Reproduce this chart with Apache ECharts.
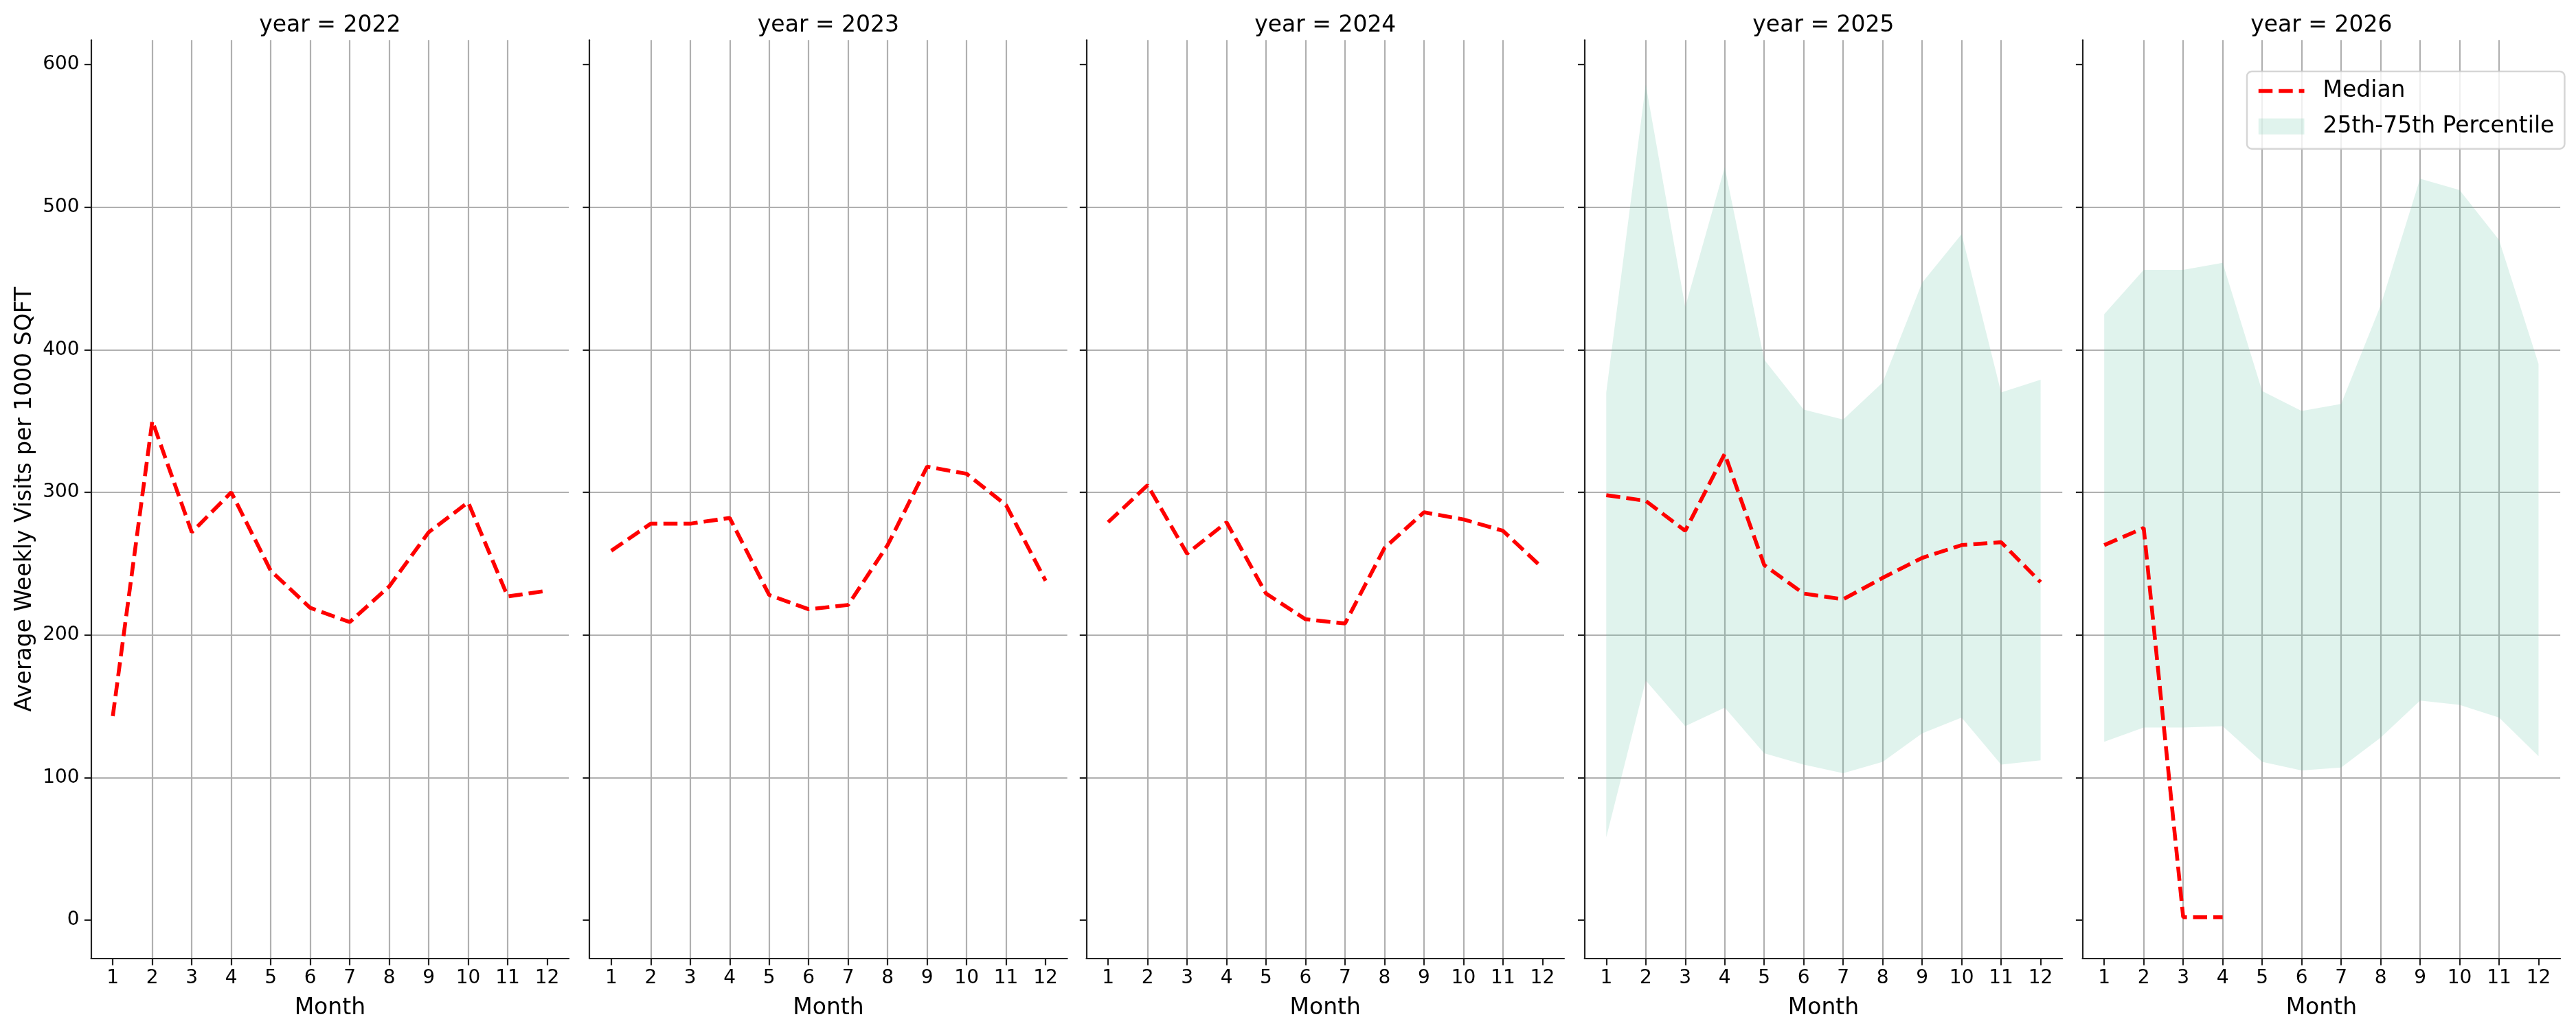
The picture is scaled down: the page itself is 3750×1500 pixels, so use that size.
<!DOCTYPE html>
<html>
<head>
<meta charset="utf-8">
<script src="https://cdn.jsdelivr.net/npm/echarts@6/dist/echarts.min.js"></script>
<style>
html, body { margin: 0; padding: 0; background: #fff; }
#main { width: 3750px; height: 1500px; }
</style>
</head>
<body>
<div id="main"></div>
<script>
var years = [2022, 2023, 2024, 2025, 2026];
var months = [1, 2, 3, 4, 5, 6, 7, 8, 9, 10, 11, 12];
var yTicks = [0, 100, 200, 300, 400, 500, 600];

var median2022 = [143, 350, 272, 300, 245, 219, 209, 234, 272, 293, 227, 231];
var median2023 = [259, 278, 278, 282, 228, 218, 221, 263, 318, 313, 291, 238];
var median2024 = [279, 305, 257, 279, 229, 211, 208, 261, 286, 281, 273, 247];
var median2025 = [298, 294, 273, 327, 249, 229, 225, 240, 254, 263, 265, 237];
var median2026 = [263, 275, 2, 2];

var lower2025 = [58, 168, 136, 149, 117, 109, 103, 111, 131, 142, 109, 112];
var upper2025 = [370, 586, 430, 528, 393, 358, 351, 377, 447, 481, 370, 379];
var lower2026 = [125, 135, 135, 136, 111, 105, 107, 128, 154, 151, 142, 115];
var upper2026 = [425, 456, 456, 461, 371, 357, 362, 431, 520, 512, 477, 390];

var medians = [median2022, median2023, median2024, median2025, median2026];
var lowers = [null, null, null, lower2025, lower2026];
var uppers = [null, null, null, upper2025, upper2026];

// layout (px)
var panelLeft = [132.6, 858.2, 1581.5, 2306.7, 3031.6];
var panelWidth = 695.5;
var panelTop = 58.3;
var panelHeight = 1337.7;
var font = 'DejaVu Sans';
var spine = {color: '#222', width: 2.2};
var gridLine = {color: '#b0b0b0', width: 2.2};
var bandColor = 'rgba(102,194,165,0.2)';
var medianLine = {color: '#ff0000', width: 5.6, type: [20.5, 8.9], cap: 'butt'};

function pairs(vals) {
    var out = [];
    for (var k = 0; k < vals.length; k++) {
        out.push([months[k], vals[k]]);
    }
    return out;
}

// whole band drawn once as one polygon, from the series' own values
function renderBand(params, api) {
    if (params.dataIndexInside !== 0) {
        return;
    }
    var n = params.dataInsideLength;
    var top = [], bottom = [];
    for (var k = 0; k < n; k++) {
        var x = api.value(0, k);
        top.push(api.coord([x, api.value(2, k)]));
        bottom.unshift(api.coord([x, api.value(1, k)]));
    }
    return {
        type: 'polygon',
        shape: {points: top.concat(bottom)},
        style: {fill: bandColor, stroke: null}
    };
}

var grids = [], xAxes = [], yAxes = [], titles = [], series = [];

for (var i = 0; i < years.length; i++) {
    grids.push({
        left: panelLeft[i], top: panelTop, width: panelWidth, height: panelHeight,
        outerBoundsMode: 'none', containLabel: false
    });
    titles.push({
        text: 'year = ' + years[i],
        left: panelLeft[i] + panelWidth / 2,
        top: 21,
        textAlign: 'center',
        padding: 0,
        textStyle: {fontSize: 33, fontWeight: 'normal', color: '#000', fontFamily: font}
    });
    xAxes.push({
        type: 'value', gridIndex: i, min: 0.45, max: 12.55,
        name: 'Month', nameLocation: 'middle', nameGap: 56,
        nameTextStyle: {fontSize: 33, color: '#000', fontFamily: font},
        axisLine: {show: true, onZero: false, lineStyle: spine},
        axisTick: {show: true, length: 9.7, customValues: months, lineStyle: spine},
        axisLabel: {show: true, customValues: months, fontSize: 28, margin: 15, color: '#000', fontFamily: font},
        splitLine: {show: true, showMinLine: false, showMaxLine: false, lineStyle: gridLine}
    });
    yAxes.push({
        type: 'value', gridIndex: i, min: -27, max: 617.2,
        name: i === 0 ? 'Average Weekly Visits per 1000 SQFT' : '',
        nameLocation: 'middle', nameGap: 80, nameRotate: 90,
        nameTextStyle: {fontSize: 33, color: '#000', fontFamily: font},
        axisLine: {show: true, onZero: false, lineStyle: spine},
        axisTick: {show: true, length: 9.7, customValues: yTicks, lineStyle: spine},
        axisLabel: {show: i === 0, customValues: yTicks, fontSize: 28, margin: 17, color: '#000', fontFamily: font},
        splitLine: {show: true, showMinLine: false, showMaxLine: false, lineStyle: gridLine}
    });

    if (lowers[i]) {
        var band = [];
        for (var k = 0; k < lowers[i].length; k++) {
            band.push([months[k], lowers[i][k], uppers[i][k]]);
        }
        series.push({
            name: '25th-75th Percentile', type: 'custom', xAxisIndex: i, yAxisIndex: i,
            silent: true, z: 1,
            itemStyle: {color: bandColor},
            encode: {x: 0, y: [1, 2]},
            renderItem: renderBand,
            data: band
        });
    }
    series.push({
        name: 'Median', type: 'line', xAxisIndex: i, yAxisIndex: i,
        symbol: 'none', silent: true, z: 5,
        itemStyle: {color: '#ff0000'},
        lineStyle: medianLine,
        data: pairs(medians[i])
    });
}

var chart = echarts.init(document.getElementById('main'), null, {renderer: 'canvas'});
chart.setOption({
    backgroundColor: '#fff',
    animation: false,
    textStyle: {fontFamily: font},
    title: titles,
    grid: grids,
    xAxis: xAxes,
    yAxis: yAxes,
    legend: {
        orient: 'vertical',
        left: 3271, top: 104,
        padding: [11, 15, 15, 14],
        itemWidth: 66.7, itemHeight: 23.3, itemGap: 16.7,
        backgroundColor: 'rgba(255,255,255,0.8)',
        borderColor: 'rgba(204,204,204,0.8)',
        borderWidth: 2.5,
        borderRadius: 7,
        textStyle: {fontSize: 33, color: '#000', fontFamily: font, lineHeight: 35, padding: [0, 0, 0, 22]},
        data: [
            {name: 'Median', itemStyle: {opacity: 0}, lineStyle: medianLine},
            {name: '25th-75th Percentile', icon: 'rect', itemStyle: {color: bandColor, borderWidth: 0}}
        ]
    },
    series: series
});
</script>
</body>
</html>
